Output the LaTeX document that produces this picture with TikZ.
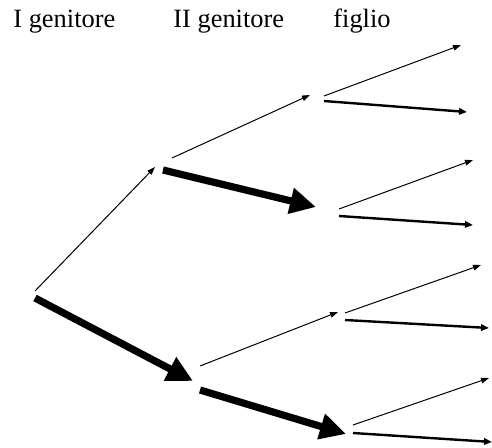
\documentclass[tikz,border=0pt]{standalone}
\usepackage{fontspec}
\setmainfont{Liberation Serif}
\usepackage{tikz}
\usetikzlibrary{arrows.meta}

\begin{document}
\begin{tikzpicture}[
x=0.5pt,
y=-0.5pt,
every node/.style={font=\fontsize{13.2}{15}\selectfont,inner sep=0pt},
rhead/.style={anchor=base west},
rthin/.style={line width=0.5pt,-{Triangle[length=4pt,width=2.8pt]}},
rmid/.style={line width=1.2pt,-{Triangle[length=4pt,width=3.2pt]}},
rthick/.style={line width=3.6pt,-{Triangle[length=13pt,width=12.5pt]}}
]
\useasboundingbox (0,0) rectangle (492,448);

\node[rhead] (h1) at (13,28) {I genitore};
\node[rhead] (h2) at (173,28) {II genitore};
\node[rhead] (h3) at (333,28) {figlio};

\coordinate (r1) at (35,291);
\coordinate (r2) at (35,298);
\coordinate (a) at (155,167);
\coordinate (b) at (193,381);

\coordinate (a1) at (172,158);
\coordinate (a2) at (163,170);
\coordinate (aa) at (310,95);
\coordinate (ab) at (316,207);

\coordinate (b1) at (200,366);
\coordinate (b2) at (200,390);
\coordinate (ba) at (338,312);
\coordinate (bb) at (346,434);

\coordinate (aa1) at (324,96);
\coordinate (aa2) at (324,101);
\coordinate (ab1) at (339,209);
\coordinate (ab2) at (339,216);
\coordinate (ba1) at (345,313);
\coordinate (ba2) at (345,320);
\coordinate (bb1) at (353,425);
\coordinate (bb2) at (353,433);

\coordinate (c1) at (461,45);
\coordinate (c2) at (467,112);
\coordinate (c3) at (473,160);
\coordinate (c4) at (473,225);
\coordinate (c5) at (481,265);
\coordinate (c6) at (489,328);
\coordinate (c7) at (489,378);
\coordinate (c8) at (492,442);

\draw[rthin] (r1) -- (a);
\draw[rthick] (r2) -- (b);

\draw[rthin] (a1) -- (aa);
\draw[rthick] (a2) -- (ab);
\draw[rthin] (b1) -- (ba);
\draw[rthick] (b2) -- (bb);

\draw[rthin] (aa1) -- (c1);
\draw[rmid] (aa2) -- (c2);
\draw[rthin] (ab1) -- (c3);
\draw[rmid] (ab2) -- (c4);
\draw[rthin] (ba1) -- (c5);
\draw[rmid] (ba2) -- (c6);
\draw[rthin] (bb1) -- (c7);
\draw[rmid] (bb2) -- (c8);
\end{tikzpicture}
\end{document}
